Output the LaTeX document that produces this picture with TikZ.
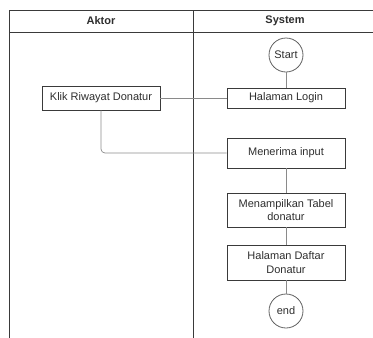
\documentclass[tikz,border=0pt]{standalone}
\usepackage{fontspec}
\setmainfont{Liberation Sans}
\definecolor{txt}{HTML}{2E2E2E}
\definecolor{frm}{HTML}{3A3A3A}
\definecolor{cn}{HTML}{8A8A8A}
\begin{document}
\begin{tikzpicture}[x=1pt,y=-1pt,
  every node/.style={text=txt,font=\fontsize{11}{13.5}\selectfont},
  actbox/.style={draw=frm,line width=0.9pt,minimum width=118pt,minimum height=#1,align=center,inner sep=1pt},
  actbox/.default=20pt,
  term/.style={draw=frm!80,line width=0.8pt,circle,minimum size=34pt,inner sep=0pt},
  conn/.style={draw=cn,line width=0.7pt},
  lane/.style={draw=frm,line width=1pt},
  head/.style={font=\bfseries\fontsize{11}{13.5}\selectfont}]
\useasboundingbox (0,0) rectangle (373,338);
% swimlane frame
\draw[lane] (9,338) -- (9,10) -- (380,10);
\draw[lane] (9,32) -- (380,32);
\draw[lane] (193,10) -- (193,338);
\node[head] (hA) at (101,21) {Aktor};
\node[head] (hS) at (285,21) {System};
% nodes
\node[term] (start) at (286,55) {Start};
\node[actbox=24pt] (klik) at (101,98) {Klik Riwayat Donatur};
\node[actbox] (login) at (286,98) {Halaman Login};
\node[actbox=30pt] (terima) at (286,153) {Menerima input};
\node[actbox=34pt] (tabel) at (286,210) {Menampilkan Tabel\\donatur};
\node[actbox=35pt] (daftar) at (286,262.5) {Halaman Daftar\\Donatur};
\node[term] (end) at (286,311) {end};
% connectors
\draw[conn] (start) -- (login);
\draw[conn] (klik) -- (login);
\draw[conn,rounded corners=4pt] (klik.south) |- (terima.west);
\draw[conn] (terima) -- (tabel);
\draw[conn] (tabel) -- (daftar);
\draw[conn] (daftar) -- (end);
\end{tikzpicture}
\end{document}
